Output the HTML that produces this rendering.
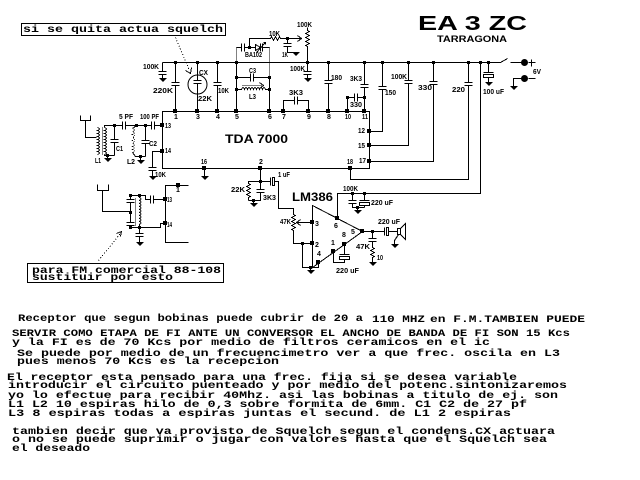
<!DOCTYPE html>
<html><head><meta charset="utf-8"><style>
html,body{margin:0;padding:0;background:#fff;width:640px;height:480px;overflow:hidden}
svg{display:block}
.t{font-family:"Liberation Mono",monospace;font-weight:bold;font-size:10px}
.s{font-family:"Liberation Sans",sans-serif;font-weight:bold;font-size:7px}
.b{font-family:"Liberation Sans",sans-serif;font-weight:bold}
</style></head><body>
<svg width="640" height="480" viewBox="0 0 640 480" xmlns="http://www.w3.org/2000/svg">
<rect x="0" y="0" width="640" height="480" fill="#fff"/>
<g transform="translate(0.5,0.5)" fill="none" stroke="#000" stroke-width="1" shape-rendering="crispEdges">
<path d="M162,62H500 M500,62L507,58 M510,62H521 M528,62h7 M531,59v7 M528,78h7 M521,78H513V86"/>
<path d="M162,62V71 M158,71h8 M158,74h8 M162,74V78"/>
<path d="M175,62V82 M171,82h8 M171,85h8 M175,85V111"/>
<path d="M197,62V80 M193,80h8 M193,83h8 M197,83V111"/>
<path d="M217,62V82 M213,82h8 M213,85h8 M217,85V111"/>
<path d="M236,62V111 M269,77V111"/>
<path d="M236,77H250 M250,73v8 M253,73v8 M253,77H269"/>
<path d="M236,89H241 q1.5,-4 3,0 q1.5,-4 3,0 q1.5,-4 3,0 q1.5,-4 3,0 q1.5,-4 3,0 q1.5,-4 3,0 q1.5,-4 3,0 q1.5,-4 3,0 H269"/>
<path d="M242,85H262" stroke-dasharray="1,1"/>
<path d="M259,82L263,85L259,88"/>
<path d="M236,47V62 M269,47V77" stroke-dasharray="1,1"/>
<path d="M236,47H241 M241,43v8 M244,43v8 M244,47H255 M255,44L260,47L255,50Z M260,43v8 M262,43v8 M262,47H269 M256,52L265,42 M263,42h2v2"/>
<path d="M249,47V38H270 l1,-2 l2,4 l2,-4 l2,4 l2,-4 l1,2 H300 M297,35L301,38L297,41"/>
<path d="M287,38V43 M283,43h8 M283,46h8 M287,46V52H295"/>
<path d="M307,27V30 l2,1 l-4,2 l4,2 l-4,2 l4,2 l-4,2 l4,2 l-4,2 l2,1 V71 M303,71h8 M303,74h8 M307,74V78"/>
<path d="M283,111V100H294 M294,96v8 M297,96v8 M297,100H308V111"/>
<path d="M328,62V80 M324,80h8 M324,83h8 M328,83V111"/>
<path d="M364,62V84 M360,84h8 M360,87h8 M364,87V111"/>
<path d="M347,111V97H354 M354,93v8 M357,93v8 M357,97H364"/>
<path d="M382,62V86 M378,86h8 M378,89h8 M382,89V131H369"/>
<path d="M408,62V80 M404,80h8 M404,83h8 M408,83V145H369"/>
<path d="M433,62V81 M429,81h8 M429,84h8 M433,84V161H369"/>
<path d="M468,62V82 M464,82h8 M464,85h8 M468,85V179H350V168"/>
<path d="M480,62V193H337V218"/>
<path d="M488,62V72 M483,72h10 M488,77V82"/>
<rect x="483" y="74" width="10" height="3"/>
<path d="M162,111H369V168H162Z"/>
<path d="M159,78h7M160,79h5M161,80h3M162,81h1 M304,78h7M305,79h5M306,80h3M307,81h1 M292,52h7M293,53h5M294,54h3M295,55h1 M485,82h7M486,83h5M487,84h3M488,85h1 M510,86h7M511,87h5M512,88h3M513,89h1 M104,158h7M105,159h5M106,160h3M107,161h1 M137,160h7M138,161h5M139,162h3M140,163h1 M149,176h7M150,177h5M151,178h3M152,179h1 M201,176h7M202,177h5M203,178h3M204,179h1 M250,203h7M251,204h5M252,205h3M253,206h1 M307,270h7M308,271h5M309,272h3M310,273h1 M354,210h7M355,211h5M356,212h3M357,213h1 M391,244h7M392,245h5M393,246h3M394,247h1 M369,262h7M370,263h5M371,264h3M372,265h1 M136,242h7M137,243h5M138,244h3M139,245h1"/>
<path d="M80,115V120H90V115 M85,120V137H96"/>
<path d="M97,127 q4,1.5 0,3 q4,1.5 0,3 q4,1.5 0,3 q4,1.5 0,3 q4,1.5 0,3 q4,1.5 0,3 q4,1.5 0,3 q4,1.5 0,3 q4,1.5 0,3"/>
<path d="M104,127 q4,1.5 0,3 q4,1.5 0,3 q4,1.5 0,3 q4,1.5 0,3 q4,1.5 0,3 q4,1.5 0,3 q4,1.5 0,3 q4,1.5 0,3 q4,1.5 0,3"/>
<path d="M102,127V154" stroke-dasharray="1,1"/>
<path d="M104,127V125H114 M104,154V155H114 M107,155V158"/>
<path d="M114,125V139 M110,139h8 M110,142h8 M114,142V155"/>
<path d="M114,125H122 M122,121v8 M125,121v8 M125,125H151 M151,121v8 M154,121v8 M154,125H162"/>
<path d="M136,125L132,128 M132,152L135,156H145 M140,156V160"/>
<path d="M132,128 q4,1.5 0,3 q4,1.5 0,3 q4,1.5 0,3 q4,1.5 0,3 q4,1.5 0,3 q4,1.5 0,3 q4,1.5 0,3 q4,1.5 0,3" stroke-dasharray="1,1"/>
<path d="M145,125V140 M141,140h8 M141,143h8 M145,143V156"/>
<path d="M162,151H152V167 M148,167h8 M148,170h8 M152,170V176"/>
<path d="M204,168V176"/>
<path d="M260,168V189 M256,189h8 M256,192h8 M260,192V200H248"/>
<path d="M260,181H248V183 l2,1 l-4,2 l4,2 l-4,2 l4,2 l-4,2 l4,2 l-2,1 V200 M253,200V203"/>
<path d="M260,181H270 M270,177v8 M274,181H278V208H293V214 l2,1 l-4,2 l4,2 l-4,2 l4,2 l-4,2 l4,2 l-4,2 l2,1 V243H312"/>
<rect x="272" y="177" width="2" height="8"/>
<path d="M312,222H297 M300,219L296,222L300,225"/>
<path d="M302,243V267H318V262 M310,267V270"/>
<path d="M312,205V267L362,231Z"/>
<path d="M352,193V200 M348,200h8 M348,203h8 M352,203V207H364 M364,193V200 M359,200h10 M364,205V207 M357,207V210"/>
<rect x="359" y="202" width="10" height="3"/>
<path d="M344,244V254 M339,254h10 M344,259V262H333V251"/>
<rect x="339" y="256" width="10" height="3"/>
<path d="M362,231H384 M384,227v8 M388,231H397"/>
<rect x="386" y="227" width="2" height="8"/>
<rect x="397" y="228" width="3" height="6"/>
<path d="M400,228L405,223V239L400,234 M398,234L394,240V244"/>
<path d="M372,231V238 M368,238h8 M368,241h8 M372,241V247 l2,1 l-4,2 l4,2 l-4,2 l4,2 l-2,1 V262"/>
<path d="M97,184V190H108V184 M102,190V211H130"/>
<path d="M130,195V199 M126,199h8 M126,202h8 M130,202V222 M126,222h8 M126,225h8 M130,225V227H160V223H165"/>
<path d="M130,195H145V199H150 M150,195v8 M153,195v8 M153,199H165"/>
<path d="M139,195V197 q3,1.5 0,3 q3,1.5 0,3 q3,1.5 0,3 q3,1.5 0,3 q3,1.5 0,3 q3,1.5 0,3 q3,1.5 0,3 q3,1.5 0,3 q3,1.5 0,3 V227"/>
<path d="M135,198V225" stroke-dasharray="1,1"/>
<path d="M139,227V233 M135,233h8 M135,236h8 M139,236V242"/>
<path d="M188,185H165V242H188"/>
<path d="M175,37L189,70 M98,260L120,233" stroke-dasharray="1,2"/>
<path d="M185,70L190,73L191,67 M116,233L121,231L120,236"/>
<rect x="21" y="23" width="204" height="12"/>
<rect x="27" y="263" width="196" height="19"/>
<circle cx="197" cy="84" r="9.5" shape-rendering="auto"/>
</g>
<g fill="#000">
<rect x="174" y="61" width="3" height="3"/><rect x="196" y="61" width="3" height="3"/><rect x="216" y="61" width="3" height="3"/><rect x="235" y="61" width="3" height="3"/><rect x="306" y="61" width="3" height="3"/><rect x="327" y="61" width="3" height="3"/><rect x="363" y="61" width="3" height="3"/><rect x="381" y="61" width="3" height="3"/><rect x="407" y="61" width="3" height="3"/><rect x="432" y="61" width="3" height="3"/><rect x="467" y="61" width="3" height="3"/><rect x="479" y="61" width="3" height="3"/><rect x="487" y="61" width="3" height="3"/>
<rect x="248" y="46" width="3" height="3"/><rect x="286" y="37" width="3" height="3"/><rect x="235" y="76" width="3" height="3"/><rect x="235" y="88" width="3" height="3"/><rect x="268" y="76" width="3" height="3"/><rect x="268" y="88" width="3" height="3"/><rect x="363" y="96" width="3" height="3"/><rect x="346" y="96" width="3" height="3"/>
<rect x="113" y="124" width="3" height="3"/><rect x="135" y="124" width="3" height="3"/><rect x="144" y="124" width="3" height="3"/><rect x="106" y="154" width="3" height="3"/><rect x="139" y="155" width="3" height="3"/>
<rect x="259" y="180" width="3" height="3"/><rect x="252" y="199" width="3" height="3"/><rect x="301" y="242" width="3" height="3"/><rect x="356" y="206" width="3" height="3"/><rect x="351" y="192" width="3" height="3"/><rect x="363" y="192" width="3" height="3"/><rect x="371" y="230" width="3" height="3"/><rect x="309" y="266" width="3" height="3"/>
<rect x="129" y="194" width="3" height="3"/><rect x="129" y="211" width="3" height="3"/><rect x="129" y="226" width="3" height="3"/><rect x="138" y="194" width="3" height="3"/><rect x="138" y="226" width="3" height="3"/>
<rect x="173" y="109" width="4" height="4"/><rect x="195" y="109" width="4" height="4"/><rect x="215" y="109" width="4" height="4"/><rect x="234" y="109" width="4" height="4"/><rect x="267" y="109" width="4" height="4"/><rect x="281" y="109" width="4" height="4"/><rect x="306" y="109" width="4" height="4"/><rect x="326" y="109" width="4" height="4"/><rect x="345" y="109" width="4" height="4"/><rect x="362" y="109" width="4" height="4"/>
<rect x="367" y="129" width="4" height="4"/><rect x="367" y="143" width="4" height="4"/><rect x="367" y="159" width="4" height="4"/><rect x="348" y="166" width="4" height="4"/><rect x="258" y="166" width="4" height="4"/><rect x="202" y="166" width="4" height="4"/><rect x="160" y="123" width="4" height="4"/><rect x="160" y="149" width="4" height="4"/>
<rect x="310" y="220" width="4" height="4"/><rect x="310" y="241" width="4" height="4"/><rect x="335" y="216" width="4" height="4"/><rect x="342" y="242" width="4" height="4"/><rect x="331" y="249" width="4" height="4"/><rect x="316" y="260" width="4" height="4"/><rect x="360" y="229" width="4" height="4"/>
<rect x="163" y="197" width="4" height="4"/><rect x="163" y="221" width="4" height="4"/><rect x="176" y="183" width="4" height="4"/>
<circle cx="524.5" cy="62.5" r="3.5"/><circle cx="524.5" cy="78.5" r="3.5"/>
</g>
<g fill="#000">
<text class="b" x="418" y="30" font-size="20" textLength="109" lengthAdjust="spacingAndGlyphs">EA 3 ZC</text>
<text class="b" x="437" y="42" font-size="9" textLength="70" lengthAdjust="spacingAndGlyphs">TARRAGONA</text>
<text class="t" x="23" y="32" textLength="200" lengthAdjust="spacingAndGlyphs">si se quita actua squelch</text>
<text class="t" x="32" y="273" textLength="189" lengthAdjust="spacingAndGlyphs">para FM comercial 88-108</text>
<text class="t" x="32" y="280" textLength="141" lengthAdjust="spacingAndGlyphs">sustituir por esto</text>
<text class="b" x="225" y="143" font-size="12" textLength="63" lengthAdjust="spacingAndGlyphs">TDA 7000</text>
<text class="b" x="292" y="201" font-size="12" textLength="41" lengthAdjust="spacingAndGlyphs">LM386</text>
<text class="s" x="143" y="69" textLength="16" lengthAdjust="spacingAndGlyphs">100K</text>
<text class="s" x="153" y="93" textLength="20" lengthAdjust="spacingAndGlyphs">220K</text>
<text class="s" x="199" y="75" textLength="9" lengthAdjust="spacingAndGlyphs">CX</text>
<text class="s" x="198" y="101" textLength="14" lengthAdjust="spacingAndGlyphs">22K</text>
<text class="s" x="218" y="93" textLength="11" lengthAdjust="spacingAndGlyphs">10K</text>
<text class="s" x="174" y="119">1</text><text class="s" x="196" y="119">3</text><text class="s" x="216" y="119">4</text><text class="s" x="235" y="119">5</text><text class="s" x="268" y="119">6</text><text class="s" x="282" y="119">7</text><text class="s" x="307" y="119">9</text><text class="s" x="327" y="119">8</text>
<text class="s" x="345" y="119" textLength="6" lengthAdjust="spacingAndGlyphs">10</text><text class="s" x="362" y="119" textLength="6" lengthAdjust="spacingAndGlyphs">11</text>
<text class="s" x="249" y="73" textLength="7" lengthAdjust="spacingAndGlyphs">C3</text>
<text class="s" x="249" y="99" textLength="7" lengthAdjust="spacingAndGlyphs">L3</text>
<text class="s" x="245" y="57" textLength="17" lengthAdjust="spacingAndGlyphs">BA102</text>
<text class="s" x="269" y="36" textLength="11" lengthAdjust="spacingAndGlyphs">10K</text>
<text class="s" x="282" y="57" textLength="6" lengthAdjust="spacingAndGlyphs">1K</text>
<text class="s" x="297" y="27" textLength="15" lengthAdjust="spacingAndGlyphs">100K</text>
<text class="s" x="290" y="71" textLength="15" lengthAdjust="spacingAndGlyphs">100K</text>
<text class="s" x="289" y="95" textLength="14" lengthAdjust="spacingAndGlyphs">3K3</text>
<text class="s" x="331" y="80" textLength="11" lengthAdjust="spacingAndGlyphs">180</text>
<text class="s" x="350" y="81" textLength="12" lengthAdjust="spacingAndGlyphs">3K3</text>
<text class="s" x="350" y="107" textLength="12" lengthAdjust="spacingAndGlyphs">330</text>
<text class="s" x="358" y="133" textLength="7" lengthAdjust="spacingAndGlyphs">12</text>
<text class="s" x="358" y="148" textLength="7" lengthAdjust="spacingAndGlyphs">15</text>
<text class="s" x="359" y="163" textLength="7" lengthAdjust="spacingAndGlyphs">17</text>
<text class="s" x="347" y="164" textLength="6" lengthAdjust="spacingAndGlyphs">18</text>
<text class="s" x="385" y="95" textLength="11" lengthAdjust="spacingAndGlyphs">150</text>
<text class="s" x="391" y="79" textLength="16" lengthAdjust="spacingAndGlyphs">100K</text>
<text class="s" x="418" y="90" textLength="14" lengthAdjust="spacingAndGlyphs">330</text>
<text class="s" x="452" y="92" textLength="13" lengthAdjust="spacingAndGlyphs">220</text>
<text class="s" x="483" y="94" textLength="21" lengthAdjust="spacingAndGlyphs">100 uF</text>
<text class="s" x="533" y="74" textLength="8" lengthAdjust="spacingAndGlyphs">6V</text>
<text class="s" x="119" y="119" textLength="14" lengthAdjust="spacingAndGlyphs">5 PF</text>
<text class="s" x="140" y="119" textLength="19" lengthAdjust="spacingAndGlyphs">100 PF</text>
<text class="s" x="165" y="128" textLength="6" lengthAdjust="spacingAndGlyphs">13</text>
<text class="s" x="165" y="153" textLength="6" lengthAdjust="spacingAndGlyphs">14</text>
<text class="s" x="116" y="151" textLength="7" lengthAdjust="spacingAndGlyphs">C1</text>
<text class="s" x="149" y="146" textLength="8" lengthAdjust="spacingAndGlyphs">C2</text>
<text class="s" x="95" y="163" textLength="6" lengthAdjust="spacingAndGlyphs">L1</text>
<text class="s" x="127" y="164" textLength="8" lengthAdjust="spacingAndGlyphs">L2</text>
<text class="s" x="155" y="177" textLength="11" lengthAdjust="spacingAndGlyphs">10K</text>
<text class="s" x="201" y="164" textLength="6" lengthAdjust="spacingAndGlyphs">16</text>
<text class="s" x="259" y="164">2</text>
<text class="s" x="278" y="177" textLength="12" lengthAdjust="spacingAndGlyphs">1 uF</text>
<text class="s" x="231" y="192" textLength="14" lengthAdjust="spacingAndGlyphs">22K</text>
<text class="s" x="263" y="200" textLength="13" lengthAdjust="spacingAndGlyphs">3K3</text>
<text class="s" x="343" y="191" textLength="15" lengthAdjust="spacingAndGlyphs">100K</text>
<text class="s" x="371" y="205" textLength="22" lengthAdjust="spacingAndGlyphs">220 uF</text>
<text class="s" x="280" y="224" textLength="11" lengthAdjust="spacingAndGlyphs">47K</text>
<text class="s" x="315" y="226">3</text><text class="s" x="334" y="228">6</text><text class="s" x="315" y="247">2</text><text class="s" x="317" y="256">4</text><text class="s" x="331" y="245">1</text><text class="s" x="342" y="237">8</text><text class="s" x="351" y="234">5</text>
<text class="s" x="378" y="224" textLength="22" lengthAdjust="spacingAndGlyphs">220 uF</text>
<text class="s" x="356" y="249" textLength="14" lengthAdjust="spacingAndGlyphs">47K</text>
<text class="s" x="377" y="260" textLength="6" lengthAdjust="spacingAndGlyphs">10</text>
<text class="s" x="336" y="273" textLength="23" lengthAdjust="spacingAndGlyphs">220 uF</text>
<text class="s" x="176" y="192">1</text>
<text class="s" x="167" y="202" textLength="5" lengthAdjust="spacingAndGlyphs">13</text>
<text class="s" x="167" y="227" textLength="5" lengthAdjust="spacingAndGlyphs">14</text>
</g>
<g fill="#000">
<text class="t" x="18" y="321" textLength="345" lengthAdjust="spacingAndGlyphs">Receptor que segun bobinas puede cubrir de 20 a</text>
<text class="t" x="372" y="322" font-size="11" textLength="53" lengthAdjust="spacingAndGlyphs">110 MHZ</text>
<text class="t" x="430" y="322" textLength="155" lengthAdjust="spacingAndGlyphs">en F.M.TAMBIEN PUEDE</text>
<text class="t" x="12" y="336" textLength="558" lengthAdjust="spacingAndGlyphs">SERVIR COMO ETAPA DE FI ANTE UN CONVERSOR EL ANCHO DE BANDA DE FI SON 15 Kcs</text>
<text class="t" x="12" y="345" textLength="478" lengthAdjust="spacingAndGlyphs">y la FI es de 70 Kcs por medio de filtros ceramicos en el ic</text>
<text class="t" x="17" y="356" textLength="543" lengthAdjust="spacingAndGlyphs">Se puede por medio de un frecuencimetro ver a que frec. oscila en L3</text>
<text class="t" x="17" y="364" textLength="262" lengthAdjust="spacingAndGlyphs">pues menos 70 Kcs es la recepcion</text>
<text class="t" x="7" y="380" textLength="510" lengthAdjust="spacingAndGlyphs">El receptor esta pensado para una frec. fija si se desea variable</text>
<text class="t" x="8" y="388" textLength="559" lengthAdjust="spacingAndGlyphs">introducir el circuito puenteado y por medio del potenc.sintonizaremos</text>
<text class="t" x="8" y="398" textLength="550" lengthAdjust="spacingAndGlyphs">yo lo efectue para recibir 40Mhz. asi las bobinas a titulo de ej. son</text>
<text class="t" x="8" y="407" textLength="519" lengthAdjust="spacingAndGlyphs">L1 L2 10 espiras hilo de 0,3 sobre formita de 6mm. C1 C2 de 27 pf</text>
<text class="t" x="8" y="416" textLength="503" lengthAdjust="spacingAndGlyphs">L3 8 espiras  todas a espiras juntas el secund. de L1 2 espiras</text>
<text class="t" x="12" y="434" textLength="543" lengthAdjust="spacingAndGlyphs">tambien decir que va provisto de Squelch segun el condens.CX actuara</text>
<text class="t" x="12" y="442" textLength="535" lengthAdjust="spacingAndGlyphs">o no se puede suprimir o jugar con valores hasta que el Squelch sea</text>
<text class="t" x="12" y="451" textLength="78" lengthAdjust="spacingAndGlyphs">el deseado</text>
</g>
</svg>
</body></html>
